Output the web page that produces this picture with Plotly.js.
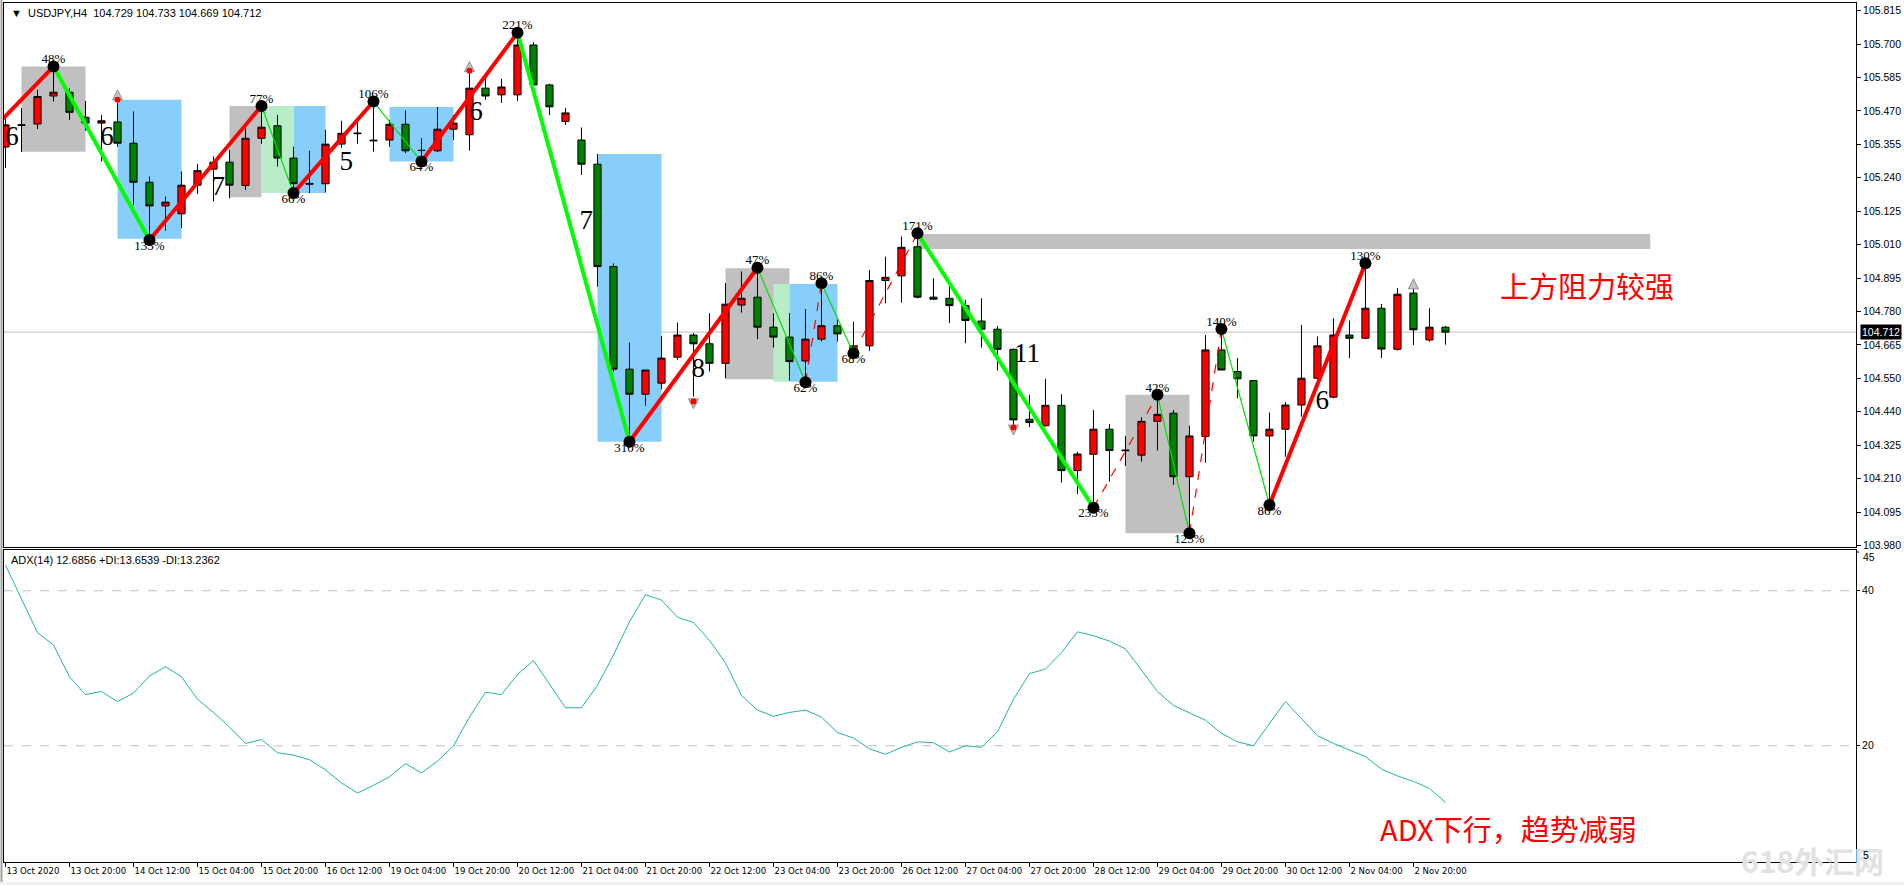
<!DOCTYPE html>
<html><head><meta charset="utf-8">
<script src="https://cdn.plot.ly/plotly-3.0.1.min.js"></script>
<style>html,body{margin:0;padding:0;background:#fff;overflow:hidden}#chart{width:1904px;height:885px}</style>
</head><body><div id="chart"></div>
<script>
// ---------- DATA ----------
const barOpen  = [105.347,105.421,105.426,105.522,105.535,105.449,105.429,105.433,105.360,105.226,
                  105.145,105.118,105.216,105.271,105.295,105.215,105.377,105.420,105.309,105.219,
                  105.221,105.357,105.395,105.368,105.371,105.425,105.336,105.334,105.408,105.389,
                  105.549,105.526,105.526,105.697,105.560,105.435,105.371,105.288,104.937,104.585,
                  104.499,104.537,104.626,104.702,104.672,104.605,104.805,104.832,104.729,104.695,
                  104.613,104.688,104.734,104.665,104.665,104.889,104.905,105.005,104.832,104.828,
                  104.803,104.750,104.722,104.653,104.413,104.391,104.461,104.237,104.293,104.379,
                  104.305,104.290,104.406,104.434,104.216,104.354,104.651,104.577,104.546,104.356,
                  104.379,104.462,104.554,104.489,104.702,104.691,104.794,104.653,104.846,104.685,
                  104.729];
const barHigh  = [105.447,105.481,105.543,105.623,105.549,105.505,105.457,105.497,105.469,105.246,
                  105.177,105.263,105.289,105.314,105.337,105.413,105.488,105.457,105.348,105.334,
                  105.406,105.437,105.429,105.503,105.440,105.472,105.377,105.484,105.457,105.600,
                  105.589,105.581,105.739,105.706,105.564,105.481,105.414,105.323,104.948,104.676,
                  104.582,104.699,104.745,104.709,104.777,104.880,104.920,104.933,104.777,104.777,
                  104.791,104.880,104.756,104.748,104.925,104.971,105.040,105.051,104.897,104.874,
                  104.823,104.828,104.733,104.656,104.497,104.552,104.499,104.302,104.445,104.397,
                  104.356,104.420,104.497,104.445,104.391,104.702,104.723,104.623,104.548,104.436,
                  104.472,104.737,104.697,104.760,104.752,104.948,104.809,104.863,104.863,104.794,
                  104.733];
const barLow   = [105.275,105.330,105.409,105.503,105.440,105.403,105.297,105.348,105.148,105.028,
                  105.060,105.069,105.186,105.160,105.171,105.200,105.358,105.280,105.189,105.189,
                  105.191,105.344,105.358,105.331,105.348,105.326,105.297,105.330,105.371,105.335,
                  105.509,105.498,105.505,105.552,105.457,105.423,105.251,104.868,104.577,104.336,
                  104.460,104.516,104.617,104.491,104.577,104.554,104.779,104.688,104.659,104.546,
                  104.540,104.680,104.680,104.640,104.648,104.811,104.813,104.828,104.823,104.743,
                  104.674,104.659,104.580,104.394,104.386,104.388,104.196,104.156,104.110,104.199,
                  104.253,104.268,104.306,104.188,104.022,104.264,104.582,104.485,104.336,104.119,
                  104.285,104.422,104.550,104.485,104.623,104.688,104.623,104.649,104.668,104.679,
                  104.669];
const barClose = [105.423,105.423,105.520,105.535,105.466,105.429,105.437,105.360,105.226,105.145,
                  105.158,105.216,105.266,105.295,105.216,105.377,105.415,105.309,105.221,105.222,
                  105.357,105.394,105.393,105.370,105.425,105.334,105.335,105.408,105.429,105.549,
                  105.522,105.553,105.697,105.560,105.485,105.464,105.288,104.937,104.585,104.499,
                  104.582,104.623,104.702,104.672,104.605,104.808,104.828,104.729,104.695,104.611,
                  104.688,104.734,104.706,104.640,104.889,104.900,105.003,104.832,104.825,104.803,
                  104.752,104.722,104.653,104.411,104.402,104.461,104.237,104.294,104.379,104.306,
                  104.307,104.406,104.430,104.216,104.356,104.651,104.582,104.552,104.356,104.379,
                  104.462,104.554,104.665,104.702,104.691,104.794,104.654,104.842,104.720,104.729,
                  104.712];
const adxValues = [43.3,39.0,34.6,33.0,28.9,26.6,27.0,25.7,26.8,29.0,
                   30.2,28.9,26.0,24.3,22.4,20.3,20.8,19.1,18.8,18.2,
                   16.9,15.2,13.9,14.9,16.0,17.7,16.5,18.0,20.0,23.7,
                   26.9,26.6,29.2,31.0,28.0,24.9,24.9,27.8,31.7,36.0,
                   39.5,38.8,36.6,35.9,33.6,30.7,26.5,24.6,23.8,24.3,
                   24.6,23.7,21.7,21.0,19.6,18.9,19.8,20.5,20.4,19.2,
                   20.0,19.8,21.8,26.0,29.3,29.9,32.0,34.7,34.2,33.5,
                   32.5,29.8,27.0,25.2,24.2,23.3,21.6,20.5,20.0,22.8,
                   25.7,23.5,21.3,20.3,19.4,18.6,17.0,16.1,15.4,14.5,
                   12.69];
const timeTickBars   = [0,4,8,12,16,20,24,28,32,36,40,44,48,52,56,60,64,68,72,76,80,84,88];
const timeTickLabels = ["13 Oct 2020","13 Oct 20:00","14 Oct 12:00","15 Oct 04:00","15 Oct 20:00","16 Oct 12:00",
  "19 Oct 04:00","19 Oct 20:00","20 Oct 12:00","21 Oct 04:00","21 Oct 20:00","22 Oct 12:00","23 Oct 04:00",
  "23 Oct 20:00","26 Oct 12:00","27 Oct 04:00","27 Oct 20:00","28 Oct 12:00","29 Oct 04:00","29 Oct 20:00",
  "30 Oct 12:00","2 Nov 04:00","2 Nov 20:00"];
const priceTickLabels = ["105.815","105.700","105.585","105.470","105.355","105.240","105.125","105.010",
  "104.895","104.780","104.665","104.550","104.440","104.325","104.210","104.095","103.980"];
const priceTickTop = 105.815, priceTickStep = 0.1146875;
const adxInnerTicks = [20,40];
const adxEdgeTicks = [45,5];
const adxLevels = [20,40];
const lastPrice = 104.712;

// zigzag pivots
const zzBars   = [-0.34,3,9,16,18,23,26,32,39,47,50,51,53,57,68,72,74,76,79,85];
const zzPrices = [105.434,105.623,105.028,105.488,105.189,105.503,105.297,105.739,104.336,104.933,
                  104.540,104.880,104.640,105.051,104.110,104.497,104.022,104.723,104.119,104.948];
const zzSegKind = ["R","G","R","g","R","g","R","G","R","g","r","g","r","G","r","g","r","g","R"];
const zzPctLabels = [null,"48%","135%","77%","66%","106%","64%","221%","310%","47%","62%","86%","68%",
                     "171%","235%","42%","123%","140%","86%","130%"];

// pattern boxes [x0 bar, x1 bar, low, high]
const boxGray  = [[1,5,105.331,105.623],[14,16,105.175,105.488],[45,49,104.550,104.931],[70,74,104.022,104.497]];
const boxBlue  = [[7,11,105.032,105.509],[18,20,105.189,105.488],[24,28,105.297,105.484],[37,41,104.336,105.323],[49,52,104.542,104.877]];
const boxGreen = [[16,18,105.189,105.488],[48,49,104.542,104.877]];
const resistBand = [57,102.8,104.997,105.049];

// wave count labels
const countBars   = [0.4,6.34,13.3,21.3,29.4,36.3,43.3,63.85,82.3];
const countPrices = [105.378,105.378,105.207,105.293,105.464,105.090,104.582,104.634,104.473];
const countTexts  = ["6","6","7","5","6","7","8","11","6"];

// fractal arrows and dots
const arrowUpBars = [7,29,88],  arrowUpPrices = [105.543,105.640,104.895];
const arrowDnBars = [43,63],    arrowDnPrices = [104.449,104.359];
const signalDotBars = [7,29,43,63], signalDotPrices = [105.509,105.609,104.474,104.385];

// ---------- CHART ----------
const W = 1904, H = 885;
const bars = barOpen.map((_, i) => i);
const xRange = [-0.094, 115.66];
const priceRange = [103.975, 105.841];
const adxRange = [5, 45.26];

const traces = [];
traces.push({type:'scatter', mode:'lines', x:bars, y:adxValues, xaxis:'x', yaxis:'y',
  line:{color:'#20b2aa', width:1}, hoverinfo:'skip'});
traces.push({type:'candlestick', x:bars, open:barOpen, high:barHigh, low:barLow, close:barClose,
  xaxis:'x2', yaxis:'y2',
  increasing:{line:{color:'#000', width:1}, fillcolor:'#ff0000'},
  decreasing:{line:{color:'#000', width:1}, fillcolor:'#008000'},
  whiskerwidth:0, hoverinfo:'skip'});

function segTrace(kind, color, width, dash){
  const xs = [], ys = [];
  zzSegKind.forEach((k, i) => { if (k === kind){ xs.push(zzBars[i], zzBars[i+1], null); ys.push(zzPrices[i], zzPrices[i+1], null);} });
  return {type:'scatter', mode:'lines', x:xs, y:ys, xaxis:'x2', yaxis:'y2',
    line:{color, width, dash}, hoverinfo:'skip', connectgaps:false};
}
traces.push(segTrace('g', '#00e000', 1.2, 'solid'));
traces.push(segTrace('r', '#ff0000', 1.2, 'dash'));
traces.push(segTrace('R', '#ff0000', 4, 'solid'));
traces.push(segTrace('G', '#00ff00', 4, 'solid'));

// percentage labels
const pctX = [], pctY = [], pctT = [], pctPos = [];
zzPctLabels.forEach((t, i) => {
  if (!t) return;
  pctX.push(zzBars[i]); pctY.push(zzPrices[i]); pctT.push(t);
  const peak = zzPrices[i] > zzPrices[i-1];
  pctPos.push(peak ? 'top center' : 'bottom center');
});
traces.push({type:'scatter', mode:'text', x:pctX, y:pctY, text:pctT, textposition:pctPos,
  xaxis:'x2', yaxis:'y2', textfont:{family:'Liberation Serif, serif', size:13, color:'#000'}, hoverinfo:'skip'});
traces.push({type:'scatter', mode:'markers', x:pctX, y:pctY, xaxis:'x2', yaxis:'y2',
  marker:{color:'#000', size:12}, hoverinfo:'skip'});

traces.push({type:'scatter', mode:'markers', x:arrowUpBars, y:arrowUpPrices, xaxis:'x2', yaxis:'y2',
  marker:{symbol:'arrow-up', size:10, color:'#c4c4c4', line:{color:'#909090', width:1}}, hoverinfo:'skip'});
traces.push({type:'scatter', mode:'markers', x:arrowDnBars, y:arrowDnPrices, xaxis:'x2', yaxis:'y2',
  marker:{symbol:'arrow-down', size:10, color:'#c4c4c4', line:{color:'#909090', width:1}}, hoverinfo:'skip'});
traces.push({type:'scatter', mode:'markers', x:signalDotBars, y:signalDotPrices, xaxis:'x2', yaxis:'y2',
  marker:{color:'#ff0000', size:6}, hoverinfo:'skip'});

traces.push({type:'scatter', mode:'text', x:countBars, y:countPrices, text:countTexts, textposition:'middle center',
  xaxis:'x2', yaxis:'y2', textfont:{family:'Liberation Serif, serif', size:27, color:'#000'}, hoverinfo:'skip'});

// shapes
const shapes = [];
function addBoxes(list, color){
  list.forEach(b => shapes.push({type:'rect', xref:'x2', yref:'y2', x0:b[0], x1:b[1], y0:b[2], y1:b[3],
    fillcolor:color, line:{width:0}, layer:'below'}));
}
addBoxes(boxGray, '#c0c0c0');
addBoxes(boxBlue, '#87cefa');
addBoxes(boxGreen, '#b9ecc9');
shapes.push({type:'rect', xref:'x2', yref:'y2', x0:resistBand[0], x1:resistBand[1], y0:resistBand[2], y1:resistBand[3],
  fillcolor:'#c0c0c0', line:{width:0}, layer:'below'});
shapes.push({type:'line', xref:'x2 domain', yref:'y2', x0:0, x1:1, y0:lastPrice, y1:lastPrice,
  line:{color:'#c0c0c0', width:1}, layer:'below'});
adxLevels.forEach(v => shapes.push({type:'line', xref:'x domain', yref:'y', x0:0, x1:1, y0:v, y1:v,
  line:{color:'#c0c0c0', width:1, dash:'dash'}, layer:'below'}));
shapes.push({type:'line', xref:'paper', yref:'paper', x0:1.5/W, x1:1.5/W, y0:0, y1:1, line:{color:'#a0a0a0', width:2}});
shapes.push({type:'rect', xref:'paper', yref:'paper', x0:0, x1:1, y0:0, y1:3/H, fillcolor:'#f0f0f0', line:{width:0}});
adxEdgeTicks.forEach(v => shapes.push({type:'line', xref:'paper', yref:'y', x0:1856/W, x1:1859/W, y0:v, y1:v,
  line:{color:'#000', width:1}}));

const axFont = {family:'Liberation Sans, Arial, sans-serif', size:10.5, color:'#000'};
const timeFont = {family:'Liberation Sans Narrow, DejaVu Sans Condensed, Arial Narrow, sans-serif', size:9.5, color:'#000'};
const priceTickVals = priceTickLabels.map((_, k) => priceTickTop - k * priceTickStep);

const annotations = [
  {xref:'paper', yref:'paper', x:9/W, y:1-13/H, xanchor:'left', yanchor:'middle', showarrow:false,
   text:'\u25BC  USDJPY,H4  104.729 104.733 104.669 104.712', font:{family:'Liberation Sans, Arial, sans-serif', size:11, color:'#000'}},
  {xref:'paper', yref:'paper', x:9/W, y:1-560/H, xanchor:'left', yanchor:'middle', showarrow:false,
   text:'ADX(14) 12.6856 +DI:13.6539 -DI:13.2362', font:{family:'Liberation Sans, Arial, sans-serif', size:11, color:'#000'}},
  {xref:'paper', yref:'y2', x:1860/W, y:lastPrice, xanchor:'left', yanchor:'middle', showarrow:false,
   text:'104.712', bgcolor:'#000', font:{family:'Liberation Sans, Arial, sans-serif', size:10.5, color:'#fff'}, borderpad:1},
  {xref:'paper', yref:'paper', x:1587/W, y:1-285/H, xanchor:'center', yanchor:'middle', showarrow:false,
   text:'上方阻力较强', font:{family:'Noto Sans CJK SC, sans-serif', size:29, color:'#ff0000'}},
  {xref:'paper', yref:'paper', x:1508/W, y:1-828/H, xanchor:'center', yanchor:'middle', showarrow:false,
   text:'ADX下行，趋势减弱', font:{family:'Noto Sans CJK SC, sans-serif', size:29, color:'#ff0000'}},
  {xref:'paper', yref:'paper', x:1812/W, y:1-860/H, xanchor:'center', yanchor:'middle', showarrow:false,
   text:'<b>618外汇网</b>', font:{family:'Noto Sans CJK SC, sans-serif', size:30, color:'#e2e2e2'}},
  {xref:'paper', yref:'paper', x:1861/W, y:1-557/H, xanchor:'left', yanchor:'middle', showarrow:false,
   text:String(adxEdgeTicks[0]), font:axFont},
  {xref:'paper', yref:'paper', x:1861/W, y:1-855/H, xanchor:'left', yanchor:'middle', showarrow:false,
   text:String(adxEdgeTicks[1]), font:axFont}
];

const layout = {
  width:W, height:H, margin:{l:0, r:0, t:0, b:0},
  paper_bgcolor:'#fff', plot_bgcolor:'#fff', showlegend:false, boxgap:0.36,
  font:axFont, hovermode:false,
  xaxis:{domain:[4/W, 1856/W], range:xRange, anchor:'y', tickmode:'array', tickvals:timeTickBars, ticktext:timeTickLabels,
    tickangle:0, ticks:'outside', ticklen:4, tickcolor:'#000', showline:true, linecolor:'#000', linewidth:1, mirror:true,
    showgrid:false, zeroline:false, ticklabelposition:'outside right', tickfont:timeFont, fixedrange:true},
  xaxis2:{domain:[4/W, 1856/W], range:xRange, anchor:'y2', showticklabels:false, ticks:'',
    showline:true, linecolor:'#000', linewidth:1, mirror:true, showgrid:false, zeroline:false,
    rangeslider:{visible:false}, fixedrange:true},
  yaxis:{domain:[1-862/H, 1-550/H], range:adxRange, side:'right', anchor:'x', tickmode:'array', tickvals:adxInnerTicks,
    ticks:'outside', ticklen:3, tickcolor:'#000', showline:true, linecolor:'#000', mirror:true,
    showgrid:false, zeroline:false, tickfont:axFont, fixedrange:true},
  yaxis2:{domain:[1-547/H, 1-3/H], range:priceRange, side:'right', anchor:'x2', tickmode:'array',
    tickvals:priceTickVals, ticktext:priceTickLabels, ticks:'outside', ticklen:4, tickcolor:'#000',
    showline:true, linecolor:'#000', mirror:true, showgrid:false, zeroline:false, tickfont:axFont, fixedrange:true},
  shapes, annotations
};
Plotly.newPlot('chart', traces, layout, {staticPlot:true, displayModeBar:false});
</script></body></html>
